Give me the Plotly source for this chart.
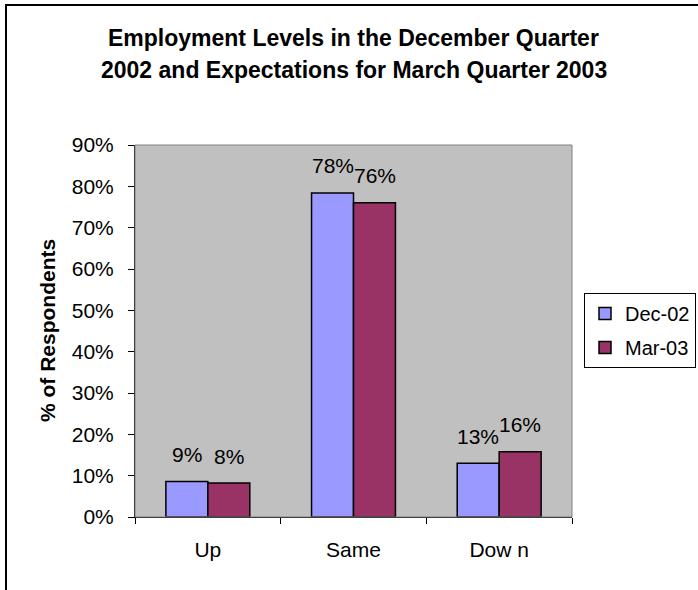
import plotly.graph_objects as go

categories = ["Up", "Same", "Dow n"]
dec_02 = [8.6, 78.4, 13.0]
mar_03 = [8.2, 76.0, 15.8]
series_names = ["Dec-02", "Mar-03"]
series_colors = ["#9999FF", "#993366"]
y_ticks = [0, 10, 20, 30, 40, 50, 60, 70, 80, 90]
title_lines = ["Employment Levels in the December Quarter",
               "2002 and Expectations for March Quarter 2003"]
y_title = "% of Respondents"

FONT = "Liberation Sans, Arial, sans-serif"
W, H = 698, 590
L, R, T, B = 135, 126, 145, 73
plot_h = H - T - B
plot_w = W - L - R

fig = go.Figure()
for name, vals, col in zip(series_names, [dec_02, mar_03], series_colors):
    fig.add_trace(go.Bar(
        x=categories, y=vals, name=name, legendgroup=name,
        marker=dict(color=col, line=dict(color="black", width=1.5)),
    ))

annotations = []
# bar value labels
for shift, vals in zip([-21, 21], [dec_02, mar_03]):
    for c, v in zip(categories, vals):
        annotations.append(dict(
            x=c, y=v, xref="x", yref="y", xshift=shift, yshift=27,
            text=f"{round(v)}%", showarrow=False, yanchor="middle",
            font=dict(family=FONT, size=21, color="black")))

# title lines
for i, line in enumerate(title_lines):
    ypix = 38 + 32 * i
    annotations.append(dict(
        x=0.5, y=(H - B - ypix) / plot_h, xref="paper", yref="paper",
        text=f"<b>{line}</b>", showarrow=False, xanchor="center", yanchor="middle",
        font=dict(family=FONT, size=23, color="black")))

# y axis title
annotations.append(dict(
    x=(47 - L) / plot_w, y=0.5, xref="paper", yref="paper",
    text=f"<b>{y_title}</b>", showarrow=False, textangle=-90,
    xanchor="center", yanchor="middle",
    font=dict(family=FONT, size=21, color="black")))

shapes = [
    # plot area border (top/right gray)
    dict(type="rect", xref="paper", yref="paper", x0=0, x1=1, y0=0, y1=1,
         line=dict(color="#808080", width=1), layer="above"),
    # outer chart frame
    dict(type="rect", xref="paper", yref="paper",
         x0=(6 - L) / plot_w, x1=(W + 20 - L) / plot_w,
         y0=-(B + 20) / plot_h, y1=(H - B - 5) / plot_h,
         line=dict(color="black", width=2)),
]

fig.update_layout(
    template="none",
    width=W, height=H,
    margin=dict(l=L, r=R, t=T, b=B, pad=0, autoexpand=False),
    paper_bgcolor="white", plot_bgcolor="#C0C0C0",
    barmode="group", bargap=0.424, bargroupgap=0,
    font=dict(family=FONT, size=21, color="black"),
    showlegend=True,
    legend=dict(
        xref="container", yref="container",
        x=584 / W, y=(H - 293) / H,
        xanchor="left", yanchor="top",
        bgcolor="white", bordercolor="black", borderwidth=1,
        font=dict(family=FONT, size=20, color="black"),
        tracegroupgap=5, itemwidth=30,
    ),
    annotations=annotations,
    shapes=shapes,
)
fig.update_xaxes(
    type="category", showline=True, linecolor="black", linewidth=1,
    ticks="outside", tickson="boundaries", ticklen=6, tickcolor="black",
    showgrid=False, zeroline=False, ticklabelstandoff=14, automargin=False,
    tickfont=dict(family=FONT, size=21, color="black"),
)
fig.update_yaxes(
    range=[0, 90], tickvals=y_ticks, ticktext=[f"{t}%" for t in y_ticks],
    showline=True, linecolor="black", linewidth=1,
    ticks="outside", ticklen=6, tickcolor="black",
    showgrid=False, zeroline=False, ticklabelstandoff=10, automargin=False,
    tickfont=dict(family=FONT, size=21, color="black"),
)

fig.write_html("out.html")
